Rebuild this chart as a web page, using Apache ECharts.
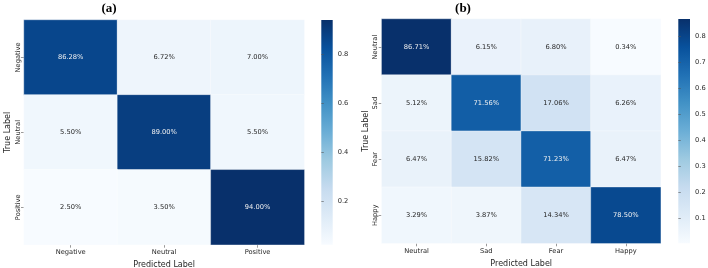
<!DOCTYPE html>
<html lang="en">
<head>
    <meta charset="UTF-8">
    <script src="https://cdn.jsdelivr.net/npm/echarts@6/dist/echarts.min.js"></script>
    <title>Confusion matrices</title>
    <style>
        html, body { margin: 0; padding: 0; background: #fff; }
        #main { width: 708px; height: 268px; }
    </style>
</head>
<body>
<div id="main"></div>
<script>
    // (a) three classes
    var labelsA = ['Negative', 'Neutral', 'Positive'];
    var matrixA = [
        [0.8628, 0.0672, 0.0700],
        [0.0550, 0.8900, 0.0550],
        [0.0250, 0.0350, 0.9400]
    ];
    var ticksA = [0.2, 0.4, 0.6, 0.8];

    // (b) four classes
    var labelsB = ['Neutral', 'Sad', 'Fear', 'Happy'];
    var matrixB = [
        [0.8671, 0.0615, 0.0680, 0.0034],
        [0.0512, 0.7156, 0.1706, 0.0626],
        [0.0647, 0.1582, 0.7123, 0.0647],
        [0.0329, 0.0387, 0.1434, 0.7850]
    ];
    var ticksB = [0.1, 0.2, 0.3, 0.4, 0.5, 0.6, 0.7, 0.8];

    var blues = ['#f7fbff', '#deebf7', '#c6dbef', '#9ecae1', '#6baed6', '#4292c6', '#2171b5', '#08519c', '#08306b'];
    var font = 'DejaVu Sans';
    var dark = '#262626';

    function range(m) {
        var all = [].concat.apply([], m);
        return [Math.min.apply(null, all), Math.max.apply(null, all)];
    }

    // heatmap cells: [col, row, value], text colour switches on dark cells
    function cells(m) {
        var r = range(m), out = [];
        for (var i = 0; i < m.length; i++) {
            for (var j = 0; j < m[i].length; j++) {
                var t = (m[i][j] - r[0]) / (r[1] - r[0]);
                out.push({
                    value: [j, i, m[i][j]],
                    label: {color: t > 0.5 ? '#f2f2f2' : dark}
                });
            }
        }
        return out;
    }

    var rA = range(matrixA), rB = range(matrixB);

    // panel boxes (pixels)
    var boxA = {left: 24, top: 20, width: 280.3, height: 224.7, outerBoundsMode: 'none'};
    var boxB = {left: 381.7, top: 19, width: 279, height: 224.3, outerBoundsMode: 'none'};
    var barA = {left: 321.3, top: 20, width: 11.4, height: 224.7, outerBoundsMode: 'none'};
    var barB = {left: 678.3, top: 19, width: 11.7, height: 224.3, outerBoundsMode: 'none'};

    function catX(idx, data, gap) {
        return {
            type: 'category', gridIndex: idx, data: data, position: 'bottom',
            name: 'Predicted Label', nameLocation: 'middle', nameGap: gap,
            nameTextStyle: {fontFamily: font, fontSize: 8, color: dark},
            axisLine: {show: false}, splitLine: {show: false}, splitArea: {show: false},
            axisTick: {show: true, alignWithLabel: true, length: 3, lineStyle: {color: '#555', width: 0.6}},
            axisLabel: {fontFamily: font, fontSize: 6.7, color: dark, margin: 4.5}
        };
    }

    function catY(idx, data, gap) {
        return {
            type: 'category', gridIndex: idx, data: data, inverse: true,
            name: 'True Label', nameLocation: 'middle', nameGap: gap,
            nameTextStyle: {fontFamily: font, fontSize: 8, color: dark},
            axisLine: {show: false}, splitLine: {show: false}, splitArea: {show: false},
            axisTick: {show: true, alignWithLabel: true, length: 3, lineStyle: {color: '#555', width: 0.6}},
            axisLabel: {fontFamily: font, fontSize: 6.7, color: dark, rotate: 90, margin: 2.5}
        };
    }

    function barAxisY(idx, r, ticks) {
        return {
            type: 'value', gridIndex: idx, min: r[0], max: r[1], position: 'right',
            axisLine: {show: false}, splitLine: {show: false},
            axisTick: {show: true, length: 2.5, customValues: ticks, lineStyle: {color: '#555', width: 0.6}},
            axisLabel: {fontFamily: font, fontSize: 6.7, color: dark, margin: 5, customValues: ticks,
                formatter: function (v) { return v.toFixed(1); }}
        };
    }

    function barAxisX(idx) {
        return {type: 'value', gridIndex: idx, show: false, min: 0, max: 1};
    }

    function heat(idx, m) {
        return {
            type: 'heatmap', xAxisIndex: idx, yAxisIndex: idx,
            data: cells(m),
            itemStyle: {borderColor: 'rgba(255,255,255,0.6)', borderWidth: 0.6},
            label: {
                show: true, fontFamily: font, fontSize: 6.7,
                formatter: function (p) { return (p.value[2] * 100).toFixed(2) + '%'; }
            },
            emphasis: {disabled: true}
        };
    }

    function vmap(si, r) {
        return {
            type: 'continuous', seriesIndex: si, min: r[0], max: r[1],
            show: false, inRange: {color: blues}
        };
    }

    // colour bar: plain rectangle with the same ramp, bottom = min
    function colorBar(bar) {
        var stops = blues.map(function (c, i) {
            return {offset: 1 - i / (blues.length - 1), color: c};
        });
        return {
            type: 'rect', silent: true,
            shape: {x: bar.left, y: bar.top, width: bar.width, height: bar.height},
            style: {fill: new echarts.graphic.LinearGradient(0, 0, 0, 1, stops)}
        };
    }

    var chart = echarts.init(document.getElementById('main'), null, {renderer: 'canvas'});
    chart.setOption({
        animation: false,
        backgroundColor: '#fff',
        grid: [boxA, boxB, barA, barB],
        xAxis: [catX(0, labelsA, 13), catX(1, labelsB, 12), barAxisX(2), barAxisX(3)],
        yAxis: [catY(0, labelsA, 12.5), catY(1, labelsB, 12), barAxisY(2, rA, ticksA), barAxisY(3, rB, ticksB)],
        visualMap: [vmap(0, rA), vmap(1, rB)],
        series: [heat(0, matrixA), heat(1, matrixB)],
        graphic: [
            colorBar(barA),
            colorBar(barB),
            {type: 'text', x: 109, y: 8.5, style: {text: '(a)', font: 'bold 13px "Liberation Serif"', fill: '#000', textAlign: 'center', textVerticalAlign: 'middle'}},
            {type: 'text', x: 463, y: 8.5, style: {text: '(b)', font: 'bold 13px "Liberation Serif"', fill: '#000', textAlign: 'center', textVerticalAlign: 'middle'}}
        ]
    });
</script>
</body>
</html>
